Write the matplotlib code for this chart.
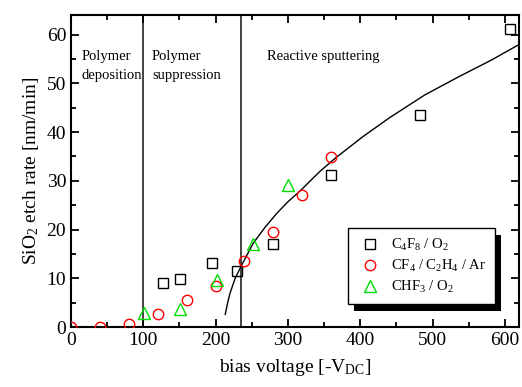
import matplotlib
matplotlib.use("Agg")
import matplotlib.pyplot as plt
from matplotlib.patches import Rectangle
from matplotlib.ticker import MultipleLocator

plt.rcParams['font.family'] = ['Liberation Serif', 'DejaVu Serif']
plt.rcParams['mathtext.fontset'] = 'custom'
plt.rcParams['mathtext.rm'] = 'Liberation Serif'
plt.rcParams['mathtext.it'] = 'Liberation Serif:italic'

# C4F8 / O2
c4f8_x = [127.6, 150.7, 195, 230, 279.7, 359, 482, 606.5]
c4f8_y = [9.1, 9.9, 13.1, 11.4, 17.0, 31.2, 43.5, 61.2]

# CF4 / C2H4 / Ar
cf4_x = [0, 40, 80.6, 120.7, 160.4, 200.5, 239.6, 279.7, 320, 360]
cf4_y = [0, 0, 0.55, 2.7, 5.5, 8.5, 13.6, 19.5, 27.1, 34.8]

# CHF3 / O2
chf3_x = [100.5, 150.7, 201.4, 251.2, 300.5]
chf3_y = [2.8, 3.6, 9.65, 17.0, 29.2]

# fitted curve
fit_x = [213.3, 216.5, 219.8, 227, 236, 252, 268, 284.4, 300, 316.6, 344, 365, 404, 441, 489, 535.5, 581.6, 620]
fit_y = [2.6, 4.9, 6.9, 10.0, 12.7, 17.2, 20.4, 23.3, 25.7, 27.9, 31.9, 34.6, 39.1, 43.0, 47.6, 51.3, 54.8, 58.0]

region_bounds = [100, 235]

fig = plt.figure(figsize=(5.22, 3.87), dpi=100)
ax = fig.add_axes([0.136, 0.155, 0.859, 0.806])

for b in region_bounds:
    ax.axvline(b, color='#222222', lw=1.2, zorder=1)

ax.plot(fit_x, fit_y, color='black', lw=1.0, zorder=2)

series = [
    ax.plot(c4f8_x, c4f8_y, 's', ms=6.5, mfc='none', mec='black', mew=1.0,
            label='C$_4$F$_8$ / O$_2$', zorder=3)[0],
    ax.plot(cf4_x, cf4_y, 'o', ms=7.5, mfc='none', mec='red', mew=1.0,
            label='CF$_4$ / C$_2$H$_4$ / Ar', zorder=3)[0],
    ax.plot(chf3_x, chf3_y, '^', ms=8, mfc='none', mec='#00dd00', mew=1.0,
            label='CHF$_3$ / O$_2$', zorder=3)[0],
]
for s in series:
    s.set_clip_path(ax.patch)

ax.text(14, 56.8, 'Polymer\ndeposition', fontsize=10.5, va='top', ha='left', linespacing=1.55)
ax.text(112, 56.8, 'Polymer\nsuppression', fontsize=10.5, va='top', ha='left', linespacing=1.55)
ax.text(271, 56.8, 'Reactive sputtering', fontsize=10.5, va='top', ha='left')

ax.set_xlim(0, 620)
ax.set_ylim(0, 64)
ax.xaxis.set_major_locator(MultipleLocator(100))
ax.xaxis.set_minor_locator(MultipleLocator(50))
ax.yaxis.set_major_locator(MultipleLocator(10))
ax.yaxis.set_minor_locator(MultipleLocator(5))
ax.tick_params(which='both', direction='in', top=True, right=True, labelsize=14, width=1.3)
ax.tick_params(which='major', length=6)
ax.tick_params(which='minor', length=3.5)
for s in ax.spines.values():
    s.set_linewidth(1.5)

ax.set_xlabel(r'bias voltage [-V$_{\mathrm{DC}}$]', fontsize=14, labelpad=6)
ax.set_ylabel('SiO$_2$ etch rate [nm/min]', fontsize=14, labelpad=4)

leg = ax.legend(loc='lower left', bbox_to_anchor=(0.617, 0.073), borderaxespad=0,
                fontsize=10.5, fancybox=False, framealpha=1, edgecolor='black',
                borderpad=0.6, handletextpad=0.6, labelspacing=0.35, handlelength=1.8)
leg.get_frame().set_linewidth(1.0)
leg.set_zorder(6)

fig.canvas.draw()
bb = leg.get_window_extent()
shadow = Rectangle((bb.x0 + 6, bb.y0 - 7), bb.width, bb.height, transform=None,
                   facecolor='black', edgecolor='none', zorder=5)
ax.add_patch(shadow)

fig.savefig('out.png', dpi=100)
